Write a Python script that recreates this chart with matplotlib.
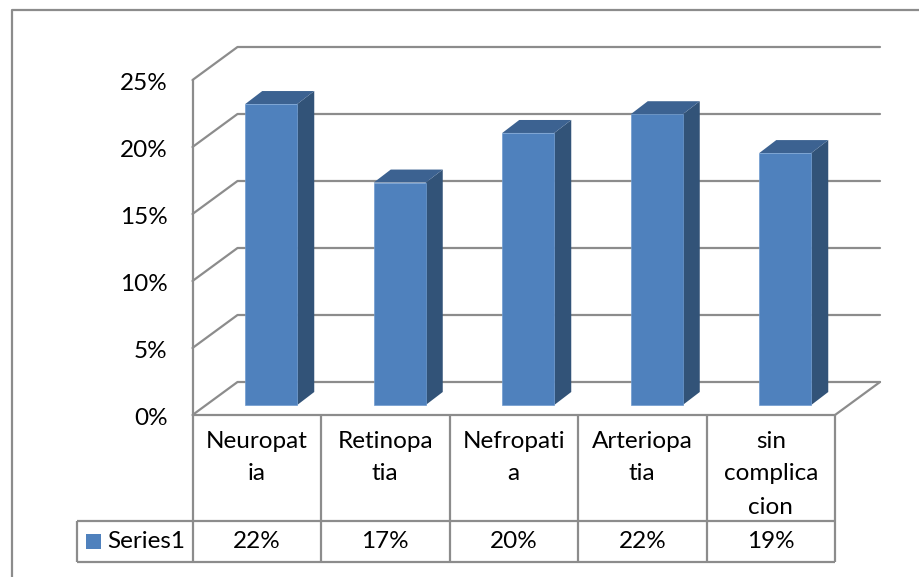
import matplotlib
matplotlib.use("Agg")
import matplotlib.pyplot as plt
from matplotlib.patches import Polygon, Rectangle

plt.rcParams['font.family'] = ['Lato', 'DejaVu Sans']

# Chart data
categories = ["Neuropat\nia", "Retinopa\ntia", "Nefropati\na", "Arteriopa\ntia", "sin\ncomplica\ncion"]
series_name = "Series1"
values = [22.46, 16.6, 20.3, 21.7, 18.8]
y_ticks = [0, 5, 10, 15, 20, 25]

# Colours
LINE = "#8c8c8c"
FRONT = "#4f81bd"
TOP = "#3c6291"
SIDE = "#325378"
FS = 17.5

W, H = 919, 577
fig = plt.figure(figsize=(W / 100, H / 100), dpi=100, facecolor="white")

# Overlay in pixel units for the outer frame and data table
chrome = fig.add_axes([0, 0, 1, 1], zorder=3)
chrome.set_xlim(0, W)
chrome.set_ylim(H, 0)
chrome.axis("off")
chrome.patch.set_alpha(0)

# Front plane of the 3D box: x in category slots, y in percent
LEFT, RIGHT, BASE, TOP_Y = 192.5, 835.0, 415.0, 80.0
ax = fig.add_axes([LEFT / W, 1 - BASE / H, (RIGHT - LEFT) / W, (BASE - TOP_Y) / H], zorder=2)
ax.set_xlim(0, len(categories))
ax.set_ylim(0, 25)
ax.axis("off")

px_x = (RIGHT - LEFT) / len(categories)
px_y = (BASE - TOP_Y) / 25

# Depth of the floor and of each bar, expressed in data units
wall_dx, wall_dy = 45 / px_x, 33 / px_y
bar_dx, bar_dy = 17 / px_x, 13 / px_y
bar_shift_x, bar_shift_y = 14.5 / px_x, 10 / px_y
bar_w = 52 / px_x

# Gridlines on the walls
line_kw = dict(color=LINE, lw=1.6, clip_on=False, solid_capstyle="round", zorder=1)
n = len(categories)
for t in y_ticks:
    ax.plot([0, wall_dx, n + wall_dx], [t, t + wall_dy, t + wall_dy], **line_kw)
ax.plot([n, n + wall_dx], [0, wall_dy], **line_kw)

# Bars with their top and side faces
for i, v in enumerate(values):
    x0 = i + 0.5 - bar_w / 2 + bar_shift_x
    x1 = x0 + bar_w
    y0 = bar_shift_y
    y1 = v + bar_shift_y
    ax.add_patch(Polygon([(x1, y0), (x1 + bar_dx, y0 + bar_dy), (x1 + bar_dx, y1 + bar_dy), (x1, y1)],
                         closed=True, fc=SIDE, ec="none", clip_on=False, zorder=4))
    ax.add_patch(Polygon([(x0, y1), (x1, y1), (x1 + bar_dx, y1 + bar_dy), (x0 + bar_dx, y1 + bar_dy)],
                         closed=True, fc=TOP, ec="none", clip_on=False, zorder=4))
    ax.bar(x0, v, width=bar_w, bottom=y0, align="edge", color=FRONT, edgecolor="#6f9bd0",
           linewidth=0.5, clip_on=False, zorder=5)

# Value axis labels
for t in y_ticks:
    ax.annotate(f"{t}%", xy=(0, t), xytext=(-25, -3.5), textcoords="offset pixels",
                ha="right", va="center", fontsize=FS, color="black", annotation_clip=False)

# Outer chart frame, running off the right and bottom edges
frame_kw = dict(color=LINE, lw=1.6, solid_capstyle="butt")
chrome.plot([W, 12, 12], [10, 10, H], **frame_kw)

# Data table grid
TABLE_LEFT, ROW_TOP, ROW_BOTTOM = 77, 521, 562
chrome.plot([LEFT, LEFT], [TOP_Y, ROW_BOTTOM], **frame_kw)
chrome.plot([LEFT, RIGHT], [BASE, BASE], **frame_kw)
chrome.plot([TABLE_LEFT, RIGHT], [ROW_TOP, ROW_TOP], **frame_kw)
chrome.plot([TABLE_LEFT, RIGHT], [ROW_BOTTOM, ROW_BOTTOM], **frame_kw)
chrome.plot([TABLE_LEFT, TABLE_LEFT], [ROW_TOP, ROW_BOTTOM], **frame_kw)
for i in range(1, n + 1):
    xv = LEFT + i * px_x
    chrome.plot([xv, xv], [BASE, ROW_BOTTOM], **frame_kw)

# Table text
for i, (c, v) in enumerate(zip(categories, values)):
    xc = LEFT + (i + 0.5) * px_x
    for j, part in enumerate(c.split("\n")):
        chrome.text(xc, 441 + 33 * j, part, ha="center", va="center", fontsize=FS, color="black")
    chrome.text(xc, 542, f"{round(v)}%", ha="center", va="center", fontsize=FS, color="black")

# Legend key inside the table
chrome.add_patch(Rectangle((86, 534), 15, 15, fc=FRONT, ec="none"))
chrome.text(107, 541.5, series_name, ha="left", va="center", fontsize=FS, color="black")

fig.savefig("out.png", dpi=100, facecolor="white")
